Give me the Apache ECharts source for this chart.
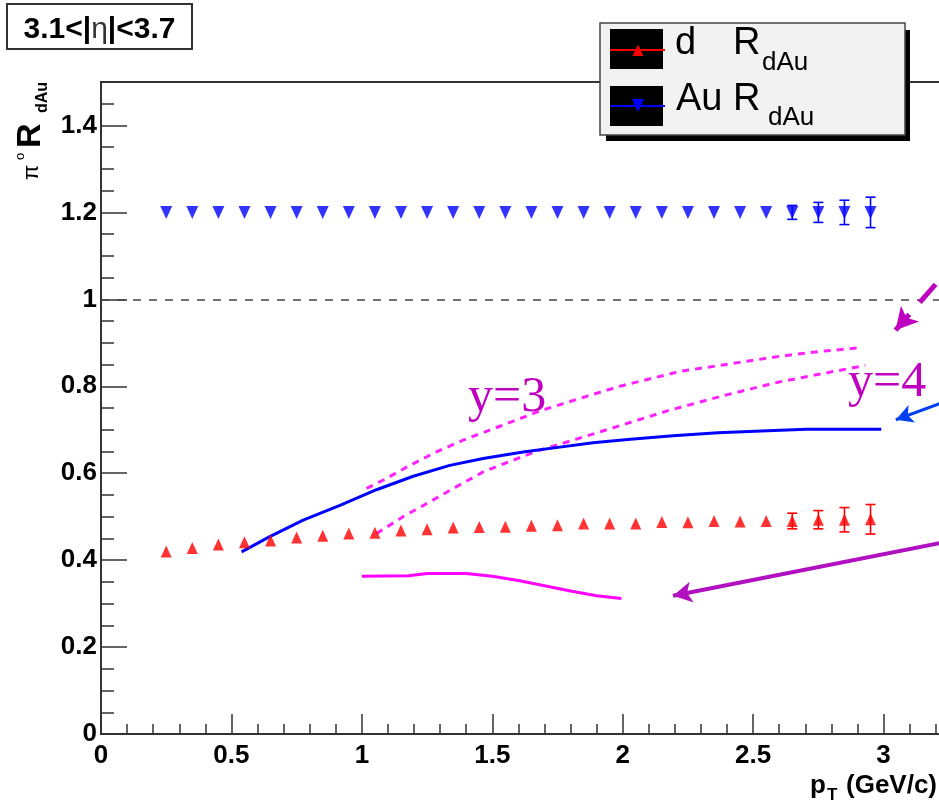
<!DOCTYPE html>
<html>
<head>
<meta charset="utf-8">
<script src="https://cdn.jsdelivr.net/npm/echarts@6/dist/echarts.min.js"></script>
<style>
  html, body { margin: 0; padding: 0; background: #fff; }
  #chart { width: 939px; height: 805px; }
</style>
</head>
<body>
<div id="chart"></div>
<script>
// pT bin centres (GeV/c)
const ptBins = [0.25, 0.35, 0.45, 0.55, 0.65, 0.75, 0.85, 0.95, 1.05, 1.15,
                1.25, 1.35, 1.45, 1.55, 1.65, 1.75, 1.85, 1.95, 2.05, 2.15,
                2.25, 2.35, 2.45, 2.55, 2.65, 2.75, 2.85, 2.95];

// d-side R_dAu and its errors
const dRdAu = [0.420, 0.428, 0.436, 0.441, 0.445, 0.452, 0.456, 0.461, 0.463, 0.468,
               0.471, 0.475, 0.476, 0.477, 0.479, 0.480, 0.484, 0.484, 0.484, 0.488,
               0.487, 0.490, 0.489, 0.490, 0.490, 0.493, 0.493, 0.494];
const dErr  = [0, 0, 0, 0, 0, 0, 0, 0, 0, 0,
               0, 0, 0, 0, 0, 0, 0, 0, 0, 0,
               0, 0, 0, 0, 0.018, 0.021, 0.028, 0.034];

// Au-side R_dAu and its errors
const auRdAu = [1.2, 1.2, 1.2, 1.2, 1.2, 1.2, 1.2, 1.2, 1.2, 1.2,
                1.2, 1.2, 1.2, 1.2, 1.2, 1.2, 1.2, 1.2, 1.2, 1.2,
                1.2, 1.2, 1.2, 1.2, 1.2, 1.2, 1.2, 1.2];
const auErr  = [0, 0, 0, 0, 0, 0, 0, 0, 0, 0,
                0, 0, 0, 0, 0, 0, 0, 0, 0, 0,
                0, 0, 0, 0, 0.016, 0.023, 0.028, 0.035];

// model curves [pT, R]
const blueCurve = [[0.539, 0.419], [0.647, 0.454], [0.775, 0.492], [0.916, 0.526], [1.056, 0.562],
                   [1.197, 0.593], [1.337, 0.618], [1.465, 0.634], [1.618, 0.649], [1.759, 0.660],
                   [1.886, 0.670], [2.030, 0.678], [2.193, 0.686], [2.365, 0.693], [2.531, 0.697],
                   [2.704, 0.701], [2.991, 0.701]];
const y3Curve = [[1.018, 0.565], [1.082, 0.584], [1.184, 0.618], [1.286, 0.649], [1.388, 0.676],
                 [1.529, 0.708], [1.682, 0.743], [1.835, 0.772], [1.989, 0.800], [2.218, 0.834],
                 [2.448, 0.855], [2.602, 0.869], [2.755, 0.880], [2.900, 0.888]];
const y4Curve = [[1.056, 0.461], [1.158, 0.500], [1.260, 0.534], [1.363, 0.569], [1.465, 0.603],
                 [1.580, 0.630], [1.682, 0.653], [1.810, 0.676], [2.014, 0.714], [2.180, 0.745],
                 [2.390, 0.779], [2.600, 0.810], [2.930, 0.848]];
const lowCurve = [[1.000, 0.363], [1.180, 0.364], [1.250, 0.369], [1.400, 0.369], [1.500, 0.363],
                  [1.600, 0.353], [1.700, 0.341], [1.800, 0.329], [1.900, 0.318], [1.995, 0.312]];

// annotation arrows: [start, end] in (pT, R)
const arrowDashed = [[3.30, 1.104], [3.046, 0.929]];
const arrowBlue   = [[3.30, 0.779], [3.047, 0.723]];
const arrowLow    = [[3.30, 0.449], [2.193, 0.318]];

// axis ranges
const xRange = [0, 3.5];
const yRange = [0, 1.5];
const unityLevel = 1;

const SANS = '"Liberation Sans", Arial, Helvetica, sans-serif';
const SERIF = '"Liberation Serif", "Times New Roman", serif';
const AXIS = '#333';
const PLOT_BOX = { left: 101, top: 82, right: -75, bottom: 71 };

function errRows(vals, errs) {
  const rows = [];
  for (let i = 0; i < ptBins.length; i++) {
    if (errs[i] > 0) rows.push([ptBins[i], vals[i] - errs[i], vals[i] + errs[i]]);
  }
  return rows;
}

function errorBarRenderer(color) {
  return function (params, api) {
    const x = api.value(0);
    const lo = api.coord([x, api.value(1)]);
    const hi = api.coord([x, api.value(2)]);
    const cap = 5;
    const st = { stroke: color, lineWidth: 1.6 };
    return {
      type: 'group',
      children: [
        { type: 'line', shape: { x1: lo[0], y1: lo[1], x2: hi[0], y2: hi[1] }, style: st },
        { type: 'line', shape: { x1: lo[0] - cap, y1: lo[1], x2: lo[0] + cap, y2: lo[1] }, style: st },
        { type: 'line', shape: { x1: hi[0] - cap, y1: hi[1], x2: hi[0] + cap, y2: hi[1] }, style: st }
      ]
    };
  };
}

function arrowSeries(pts, color, width, dash, head) {
  return {
    type: 'line',
    data: [],
    silent: true,
    markLine: {
      silent: true,
      animation: false,
      symbol: ['none', 'arrow'],
      label: { show: false },
      emphasis: { disabled: true },
      lineStyle: { color: color, width: width, type: dash },
      data: [[
        { coord: pts[0], symbol: 'none' },
        { coord: pts[1], symbol: 'arrow', symbolSize: head, itemStyle: { color: color } }
      ]]
    }
  };
}

function txt(x, y, text, size, weight, family, fill, align) {
  return {
    type: 'text', x: x, y: y, silent: true,
    style: {
      text: text, fontSize: size, fontWeight: weight, fontFamily: family, fill: fill,
      align: align || 'left', verticalAlign: 'middle'
    }
  };
}

const chart = echarts.init(document.getElementById('chart'), null, { renderer: 'canvas' });

chart.setOption({
  animation: false,
  backgroundColor: '#fff',
  grid: [
    Object.assign({
      show: true, borderColor: AXIS, borderWidth: 2, backgroundColor: 'transparent',
      containLabel: false, outerBoundsMode: 'none'
    }, PLOT_BOX),
    // same frame, carries the fine 0.05 ticks of the R axis
    Object.assign({ show: false, containLabel: false, outerBoundsMode: 'none' }, PLOT_BOX)
  ],
  xAxis: [{
    gridIndex: 0,
    type: 'value', min: xRange[0], max: xRange[1], interval: 0.5, position: 'bottom',
    axisLine: { show: true, onZero: false, lineStyle: { color: AXIS, width: 2 } },
    axisTick: { show: true, inside: true, length: 20, lineStyle: { color: AXIS, width: 1.5 } },
    minorTick: { show: true, splitNumber: 5, length: 10, lineStyle: { color: AXIS, width: 1.5 } },
    axisLabel: { show: true, margin: 9, color: '#000', fontSize: 26, fontWeight: 'bold', fontFamily: SANS },
    splitLine: { show: false }, minorSplitLine: { show: false }
  }, {
    gridIndex: 1, show: false,
    type: 'value', min: xRange[0], max: xRange[1], interval: 0.5
  }],
  yAxis: [{
    gridIndex: 0,
    type: 'value', min: yRange[0], max: yRange[1], interval: 0.2, position: 'left',
    axisLine: { show: true, onZero: false, lineStyle: { color: AXIS, width: 2 } },
    axisTick: { show: true, inside: true, length: 26, lineStyle: { color: AXIS, width: 1.5 } },
    axisLabel: { show: true, margin: 4, color: '#000', fontSize: 26, fontWeight: 'bold', fontFamily: SANS,
                 showMaxLabel: false },
    splitLine: { show: false }
  }, {
    gridIndex: 1,
    type: 'value', min: yRange[0], max: yRange[1], interval: 0.05, position: 'left',
    axisLine: { show: false },
    axisTick: { show: true, inside: true, length: 13, lineStyle: { color: AXIS, width: 1.5 } },
    axisLabel: { show: false },
    splitLine: { show: false }
  }],
  series: [
    {
      type: 'line', data: [], silent: true,
      markLine: {
        silent: true, animation: false, symbol: ['none', 'none'],
        label: { show: false }, emphasis: { disabled: true },
        lineStyle: { color: '#444', width: 1.5, type: [8, 8] },
        data: [{ yAxis: unityLevel }]
      }
    },
    {
      type: 'line', data: y3Curve, showSymbol: false, symbol: 'none', silent: true, z: 3,
      lineStyle: { color: '#ff22ff', width: 3, type: [7, 6] }
    },
    {
      type: 'line', data: y4Curve, showSymbol: false, symbol: 'none', silent: true, z: 3,
      lineStyle: { color: '#ff22ff', width: 3, type: [7, 6] }
    },
    {
      type: 'line', data: lowCurve, showSymbol: false, symbol: 'none', silent: true, z: 3,
      lineStyle: { color: '#ff00ff', width: 3 }
    },
    {
      type: 'line', data: blueCurve, showSymbol: false, symbol: 'none', silent: true, z: 3,
      lineStyle: { color: '#0000ff', width: 3 }
    },
    arrowSeries(arrowDashed, '#c000c0', 5, [24, 16], [18, 22]),
    arrowSeries(arrowBlue, '#0040f0', 3, 'solid', [14, 17]),
    arrowSeries(arrowLow, '#b010c0', 4, 'solid', [16, 19]),
    {
      type: 'custom', silent: true, z: 4,
      renderItem: errorBarRenderer('#ff0000'),
      encode: { x: 0, y: [1, 2] },
      data: errRows(dRdAu, dErr)
    },
    {
      type: 'custom', silent: true, z: 4,
      renderItem: errorBarRenderer('#0000ff'),
      encode: { x: 0, y: [1, 2] },
      data: errRows(auRdAu, auErr)
    },
    {
      name: 'd R_dAu', type: 'scatter', silent: true, z: 5,
      symbol: 'triangle', symbolSize: [11, 12],
      itemStyle: { color: '#ff0000' },
      data: ptBins.map((x, i) => [x, dRdAu[i]])
    },
    {
      name: 'Au R_dAu', type: 'scatter', silent: true, z: 5,
      symbol: 'triangle', symbolSize: [12, 13], symbolRotate: 180,
      itemStyle: { color: '#0000ff' },
      data: ptBins.map((x, i) => [x, auRdAu[i]])
    }
  ],
  graphic: {
    elements: [
      // pseudorapidity window box
      { type: 'rect', shape: { x: 7, y: 4, width: 185, height: 45 }, silent: true,
        style: { fill: '#fff', stroke: '#333', lineWidth: 2 } },
      { type: 'text', x: 99.5, y: 29.6, silent: true,
        style: {
          text: '{b|3.1<|}{e|η}{b||<3.7}', align: 'center', verticalAlign: 'middle',
          rich: {
            b: { fontSize: 30, fontWeight: 'bold', fontFamily: SANS, fill: '#000' },
            e: { fontSize: 30, fontWeight: 'normal', fontFamily: SANS, fill: '#333' }
          }
        } },

      // legend
      { type: 'rect', shape: { x: 606, y: 30, width: 304, height: 111 }, silent: true,
        style: { fill: '#000' } },
      { type: 'rect', shape: { x: 600, y: 23, width: 305, height: 112 }, silent: true,
        style: { fill: '#f2f2f2', stroke: '#444', lineWidth: 1.5 } },
      { type: 'rect', shape: { x: 610, y: 29, width: 53, height: 40 }, silent: true, style: { fill: '#000' } },
      { type: 'rect', shape: { x: 610, y: 86, width: 53, height: 40 }, silent: true, style: { fill: '#000' } },
      { type: 'line', shape: { x1: 610, y1: 50, x2: 665, y2: 50 }, silent: true,
        style: { stroke: '#ff0000', lineWidth: 2 } },
      { type: 'polygon', shape: { points: [[638, 44.5], [643.5, 56], [632.5, 56]] }, silent: true,
        style: { fill: '#ff0000' } },
      { type: 'line', shape: { x1: 610, y1: 106, x2: 665, y2: 106 }, silent: true,
        style: { stroke: '#0000ff', lineWidth: 2 } },
      { type: 'polygon', shape: { points: [[632, 99], [644, 99], [638, 112]] }, silent: true,
        style: { fill: '#0000ff' } },
      txt(675, 43.8, 'd', 38, 'normal', SANS, '#000'),
      txt(733, 43.8, 'R', 38, 'normal', SANS, '#000'),
      txt(762, 63, 'dAu', 26, 'normal', SANS, '#000'),
      txt(676, 100, 'Au', 38, 'normal', SANS, '#000'),
      txt(733, 100, 'R', 38, 'normal', SANS, '#000'),
      txt(768, 117.7, 'dAu', 26, 'normal', SANS, '#000'),

      // y-axis title, reading bottom to top
      { type: 'group', x: 42, y: 205, rotation: Math.PI / 2, silent: true,
        children: [
          txt(25, -9.6, 'π', 22, 'normal', SANS, '#000'),
          txt(45, -21.5, 'o', 13, 'normal', SANS, '#000'),
          txt(57, -11.8, 'R', 34, 'bold', SANS, '#000'),
          txt(92, 0.5, 'dAu', 16, 'bold', SANS, '#000')
        ] },

      // x-axis title
      txt(810, 786, 'p', 26, 'bold', SANS, '#000'),
      txt(827, 795, 'T', 17, 'bold', SANS, '#000'),
      txt(846, 786, '(GeV/c)', 26, 'bold', SANS, '#000'),

      // curve labels
      txt(468, 398, 'y=3', 50, 'normal', SERIF, '#bf00bf'),
      txt(848, 383, 'y=4', 50, 'normal', SERIF, '#bf00bf')
    ]
  }
});
</script>
</body>
</html>
